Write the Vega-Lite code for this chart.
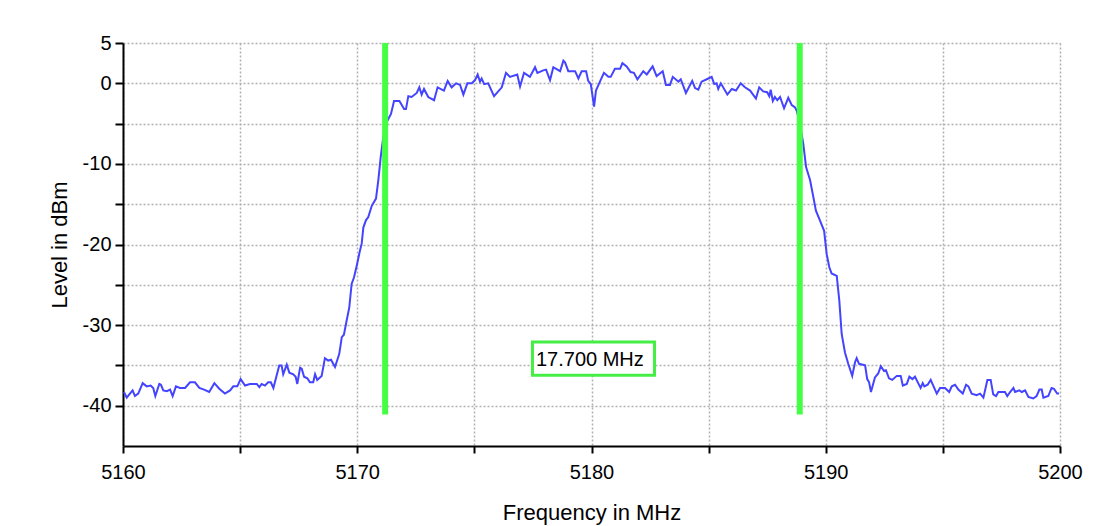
{
  "$schema": "https://vega.github.io/schema/vega-lite/v6.json",
  "width": 937,
  "height": 403,
  "autosize": {"type": "none"},
  "padding": {"left": 123, "top": 43, "right": 42, "bottom": 80},
  "background": "white",
  "config": {
    "view": {"stroke": null},
    "font": "Liberation Sans",
    "axis": {
      "domainColor": "black", "domainWidth": 2,
      "tickColor": "black", "tickWidth": 2,
      "gridColor": "#b0b0b0", "gridDash": [2, 2], "gridWidth": 1.5,
      "labelFont": "Liberation Sans",
      "labelFontSize": 20, "labelColor": "black",
      "titleFont": "Liberation Sans",
      "titleFontSize": 22, "titleFontWeight": "normal", "titleColor": "black"
    }
  },
  "datasets": {
    "trace": [
      {"f":5160.04,"dbm":-38.3},{"f":5160.16,"dbm":-39.0},{"f":5160.27,"dbm":-38.6},{"f":5160.41,"dbm":-38.1},{"f":5160.51,"dbm":-38.8},{"f":5160.65,"dbm":-38.5},{"f":5160.84,"dbm":-37.2},{"f":5161.01,"dbm":-37.6},{"f":5161.18,"dbm":-37.5},{"f":5161.29,"dbm":-37.8},{"f":5161.38,"dbm":-38.8},{"f":5161.55,"dbm":-37.3},{"f":5161.62,"dbm":-37.4},{"f":5161.72,"dbm":-38.1},{"f":5161.87,"dbm":-38.2},{"f":5162.01,"dbm":-38.0},{"f":5162.12,"dbm":-38.8},{"f":5162.26,"dbm":-37.6},{"f":5162.43,"dbm":-37.8},{"f":5162.65,"dbm":-37.8},{"f":5162.86,"dbm":-37.1},{"f":5163.07,"dbm":-37.1},{"f":5163.26,"dbm":-37.8},{"f":5163.46,"dbm":-38.0},{"f":5163.68,"dbm":-38.3},{"f":5163.90,"dbm":-37.2},{"f":5164.11,"dbm":-37.9},{"f":5164.35,"dbm":-38.5},{"f":5164.57,"dbm":-38.1},{"f":5164.71,"dbm":-37.6},{"f":5164.88,"dbm":-37.6},{"f":5165.02,"dbm":-36.7},{"f":5165.21,"dbm":-37.5},{"f":5165.42,"dbm":-37.3},{"f":5165.71,"dbm":-37.3},{"f":5165.82,"dbm":-37.7},{"f":5165.92,"dbm":-37.3},{"f":5166.06,"dbm":-37.5},{"f":5166.20,"dbm":-37.1},{"f":5166.31,"dbm":-37.1},{"f":5166.42,"dbm":-37.8},{"f":5166.67,"dbm":-35.0},{"f":5166.77,"dbm":-35.0},{"f":5166.84,"dbm":-36.1},{"f":5166.99,"dbm":-34.9},{"f":5167.10,"dbm":-35.9},{"f":5167.27,"dbm":-36.1},{"f":5167.37,"dbm":-36.4},{"f":5167.44,"dbm":-37.3},{"f":5167.56,"dbm":-35.3},{"f":5167.63,"dbm":-35.4},{"f":5167.73,"dbm":-36.4},{"f":5167.87,"dbm":-36.6},{"f":5167.98,"dbm":-37.1},{"f":5168.12,"dbm":-37.1},{"f":5168.20,"dbm":-36.1},{"f":5168.29,"dbm":-36.8},{"f":5168.48,"dbm":-36.3},{"f":5168.62,"dbm":-34.1},{"f":5168.76,"dbm":-34.4},{"f":5168.88,"dbm":-34.3},{"f":5169.05,"dbm":-35.2},{"f":5169.23,"dbm":-33.6},{"f":5169.34,"dbm":-31.5},{"f":5169.43,"dbm":-31.2},{"f":5169.55,"dbm":-29.4},{"f":5169.66,"dbm":-27.8},{"f":5169.76,"dbm":-24.9},{"f":5169.86,"dbm":-24.1},{"f":5169.98,"dbm":-22.6},{"f":5170.12,"dbm":-20.7},{"f":5170.19,"dbm":-19.9},{"f":5170.26,"dbm":-17.9},{"f":5170.37,"dbm":-17.0},{"f":5170.47,"dbm":-16.6},{"f":5170.62,"dbm":-15.2},{"f":5170.80,"dbm":-14.3},{"f":5170.90,"dbm":-12.0},{"f":5171.00,"dbm":-9.2},{"f":5171.11,"dbm":-6.7},{"f":5171.23,"dbm":-5.0},{"f":5171.33,"dbm":-4.4},{"f":5171.44,"dbm":-3.8},{"f":5171.57,"dbm":-2.2},{"f":5171.80,"dbm":-2.2},{"f":5172.00,"dbm":-3.2},{"f":5172.08,"dbm":-3.2},{"f":5172.18,"dbm":-1.6},{"f":5172.32,"dbm":-1.7},{"f":5172.54,"dbm":-1.2},{"f":5172.65,"dbm":-0.5},{"f":5172.75,"dbm":-1.4},{"f":5172.85,"dbm":-0.7},{"f":5173.03,"dbm":-1.7},{"f":5173.28,"dbm":-2.1},{"f":5173.43,"dbm":-0.5},{"f":5173.70,"dbm":-0.9},{"f":5173.86,"dbm":0.3},{"f":5174.03,"dbm":-0.5},{"f":5174.22,"dbm":0.0},{"f":5174.39,"dbm":-0.2},{"f":5174.53,"dbm":-1.4},{"f":5174.70,"dbm":0.0},{"f":5174.89,"dbm":0.0},{"f":5175.03,"dbm":0.4},{"f":5175.14,"dbm":1.1},{"f":5175.24,"dbm":0.2},{"f":5175.31,"dbm":0.6},{"f":5175.42,"dbm":-0.1},{"f":5175.59,"dbm":0.0},{"f":5175.84,"dbm":-1.6},{"f":5176.17,"dbm":-0.5},{"f":5176.35,"dbm":1.3},{"f":5176.52,"dbm":0.8},{"f":5176.83,"dbm":1.1},{"f":5176.95,"dbm":-0.4},{"f":5177.12,"dbm":1.3},{"f":5177.37,"dbm":0.8},{"f":5177.59,"dbm":2.0},{"f":5177.69,"dbm":1.3},{"f":5177.94,"dbm":1.6},{"f":5178.06,"dbm":1.7},{"f":5178.23,"dbm":0.4},{"f":5178.37,"dbm":2.0},{"f":5178.66,"dbm":1.5},{"f":5178.80,"dbm":2.8},{"f":5178.87,"dbm":2.6},{"f":5179.01,"dbm":1.5},{"f":5179.30,"dbm":1.5},{"f":5179.44,"dbm":0.6},{"f":5179.58,"dbm":1.5},{"f":5179.77,"dbm":1.5},{"f":5179.86,"dbm":0.3},{"f":5179.97,"dbm":-0.1},{"f":5180.11,"dbm":-2.9},{"f":5180.19,"dbm":-0.9},{"f":5180.36,"dbm":0.2},{"f":5180.53,"dbm":1.3},{"f":5180.72,"dbm":0.8},{"f":5180.82,"dbm":0.8},{"f":5181.00,"dbm":1.8},{"f":5181.22,"dbm":1.8},{"f":5181.32,"dbm":2.5},{"f":5181.50,"dbm":2.1},{"f":5181.67,"dbm":1.4},{"f":5181.81,"dbm":1.3},{"f":5181.96,"dbm":0.5},{"f":5182.21,"dbm":1.5},{"f":5182.36,"dbm":1.1},{"f":5182.61,"dbm":2.1},{"f":5182.78,"dbm":0.9},{"f":5183.04,"dbm":1.5},{"f":5183.18,"dbm":-0.2},{"f":5183.35,"dbm":-0.2},{"f":5183.47,"dbm":0.8},{"f":5183.71,"dbm":0.2},{"f":5183.81,"dbm":0.5},{"f":5184.03,"dbm":-1.2},{"f":5184.30,"dbm":0.3},{"f":5184.42,"dbm":-0.6},{"f":5184.56,"dbm":-0.8},{"f":5184.70,"dbm":0.2},{"f":5184.92,"dbm":0.5},{"f":5185.13,"dbm":0.8},{"f":5185.24,"dbm":-0.1},{"f":5185.34,"dbm":0.0},{"f":5185.41,"dbm":-0.7},{"f":5185.52,"dbm":0.0},{"f":5185.80,"dbm":-1.4},{"f":5185.99,"dbm":-0.7},{"f":5186.17,"dbm":-0.9},{"f":5186.37,"dbm":0.0},{"f":5186.55,"dbm":-0.5},{"f":5186.77,"dbm":-0.9},{"f":5187.02,"dbm":-1.9},{"f":5187.16,"dbm":-0.5},{"f":5187.33,"dbm":-1.0},{"f":5187.50,"dbm":-1.1},{"f":5187.59,"dbm":-1.6},{"f":5187.65,"dbm":-0.8},{"f":5187.74,"dbm":-2.2},{"f":5187.83,"dbm":-1.7},{"f":5187.93,"dbm":-2.1},{"f":5188.05,"dbm":-1.7},{"f":5188.22,"dbm":-3.1},{"f":5188.40,"dbm":-1.8},{"f":5188.55,"dbm":-2.7},{"f":5188.69,"dbm":-3.0},{"f":5188.76,"dbm":-3.4},{"f":5188.87,"dbm":-4.6},{"f":5189.04,"dbm":-7.5},{"f":5189.16,"dbm":-10.4},{"f":5189.33,"dbm":-12.0},{"f":5189.47,"dbm":-14.1},{"f":5189.58,"dbm":-15.8},{"f":5189.72,"dbm":-16.8},{"f":5189.93,"dbm":-18.3},{"f":5190.04,"dbm":-21.2},{"f":5190.15,"dbm":-22.8},{"f":5190.25,"dbm":-23.6},{"f":5190.47,"dbm":-23.9},{"f":5190.58,"dbm":-27.0},{"f":5190.68,"dbm":-31.1},{"f":5190.82,"dbm":-33.4},{"f":5190.96,"dbm":-34.8},{"f":5191.13,"dbm":-36.3},{"f":5191.25,"dbm":-34.6},{"f":5191.32,"dbm":-34.1},{"f":5191.42,"dbm":-34.8},{"f":5191.68,"dbm":-35.0},{"f":5191.77,"dbm":-36.7},{"f":5191.85,"dbm":-37.1},{"f":5191.93,"dbm":-38.3},{"f":5192.10,"dbm":-36.5},{"f":5192.24,"dbm":-36.0},{"f":5192.35,"dbm":-35.1},{"f":5192.49,"dbm":-35.7},{"f":5192.57,"dbm":-35.6},{"f":5192.70,"dbm":-36.6},{"f":5192.84,"dbm":-36.8},{"f":5193.03,"dbm":-36.3},{"f":5193.20,"dbm":-36.3},{"f":5193.29,"dbm":-37.5},{"f":5193.46,"dbm":-37.3},{"f":5193.57,"dbm":-36.4},{"f":5193.70,"dbm":-36.7},{"f":5193.81,"dbm":-36.4},{"f":5193.93,"dbm":-37.1},{"f":5194.05,"dbm":-37.8},{"f":5194.14,"dbm":-37.2},{"f":5194.21,"dbm":-37.6},{"f":5194.35,"dbm":-37.4},{"f":5194.48,"dbm":-36.8},{"f":5194.74,"dbm":-38.5},{"f":5194.88,"dbm":-37.8},{"f":5195.09,"dbm":-37.8},{"f":5195.27,"dbm":-38.3},{"f":5195.38,"dbm":-37.6},{"f":5195.52,"dbm":-37.4},{"f":5195.66,"dbm":-38.0},{"f":5195.85,"dbm":-38.5},{"f":5195.99,"dbm":-37.4},{"f":5196.09,"dbm":-37.6},{"f":5196.23,"dbm":-38.5},{"f":5196.44,"dbm":-38.7},{"f":5196.59,"dbm":-38.5},{"f":5196.73,"dbm":-39.0},{"f":5196.90,"dbm":-36.8},{"f":5197.04,"dbm":-36.8},{"f":5197.15,"dbm":-38.6},{"f":5197.27,"dbm":-38.8},{"f":5197.37,"dbm":-38.3},{"f":5197.65,"dbm":-38.3},{"f":5197.75,"dbm":-38.8},{"f":5197.87,"dbm":-38.3},{"f":5198.01,"dbm":-37.8},{"f":5198.08,"dbm":-38.3},{"f":5198.26,"dbm":-38.1},{"f":5198.37,"dbm":-38.3},{"f":5198.51,"dbm":-38.1},{"f":5198.65,"dbm":-38.9},{"f":5198.86,"dbm":-39.1},{"f":5199.00,"dbm":-38.8},{"f":5199.12,"dbm":-38.0},{"f":5199.22,"dbm":-38.0},{"f":5199.29,"dbm":-39.0},{"f":5199.50,"dbm":-38.8},{"f":5199.64,"dbm":-37.8},{"f":5199.74,"dbm":-37.9},{"f":5199.88,"dbm":-38.5},{"f":5199.96,"dbm":-38.5}
    ],
    "markers": [
      {"f": 5171.19, "top": 5, "bottom": -41.1},
      {"f": 5188.89, "top": 5, "bottom": -41.1}
    ],
    "label": [
      {"f0": 5177.48, "f1": 5182.69, "d0": -32.11, "d1": -36.21, "tf": 5177.63, "td": -35.03, "text": "17.700 MHz"}
    ]
  },
  "layer": [
    {
      "data": {"name": "trace"},
      "mark": {"type": "line", "color": "#4444ff", "strokeWidth": 2, "interpolate": "linear"},
      "encoding": {
        "x": {
          "field": "f", "type": "quantitative",
          "scale": {"domain": [5160, 5200], "nice": false, "zero": false},
          "axis": {
            "title": "Frequency in MHz",
            "values": [5160, 5165, 5170, 5175, 5180, 5185, 5190, 5195, 5200],
            "labelExpr": "datum.value % 10 == 0 ? '' + datum.value : ''",
            "tickSize": 7, "labelPadding": 9, "titlePadding": 20,
            "labelFlush": false
          }
        },
        "y": {
          "field": "dbm", "type": "quantitative",
          "scale": {"domain": [-45, 5], "nice": false, "zero": false},
          "axis": {
            "title": "Level in dBm",
            "values": [-40, -35, -30, -25, -20, -15, -10, -5, 0, 5],
            "labelExpr": "(datum.value % 10 == 0 || datum.value == 5) ? '' + datum.value : ''",
            "tickSize": 8, "labelPadding": 4, "titlePadding": 11,
            "labelFlush": false
          }
        }
      }
    },
    {
      "data": {"name": "markers"},
      "mark": {"type": "rule", "color": "#44ff44", "strokeWidth": 6},
      "encoding": {
        "x": {"field": "f", "type": "quantitative"},
        "y": {"field": "top", "type": "quantitative"},
        "y2": {"field": "bottom"}
      }
    },
    {
      "data": {"name": "label"},
      "mark": {"type": "rect", "fill": "white", "stroke": "#44ee44", "strokeWidth": 3},
      "encoding": {
        "x": {"field": "f0", "type": "quantitative"},
        "x2": {"field": "f1"},
        "y": {"field": "d0", "type": "quantitative"},
        "y2": {"field": "d1"}
      }
    },
    {
      "data": {"name": "label"},
      "mark": {"type": "text", "align": "left", "baseline": "alphabetic", "fontSize": 20, "color": "black", "font": "Liberation Sans"},
      "encoding": {
        "x": {"field": "tf", "type": "quantitative"},
        "y": {"field": "td", "type": "quantitative"},
        "text": {"field": "text"}
      }
    }
  ]
}
